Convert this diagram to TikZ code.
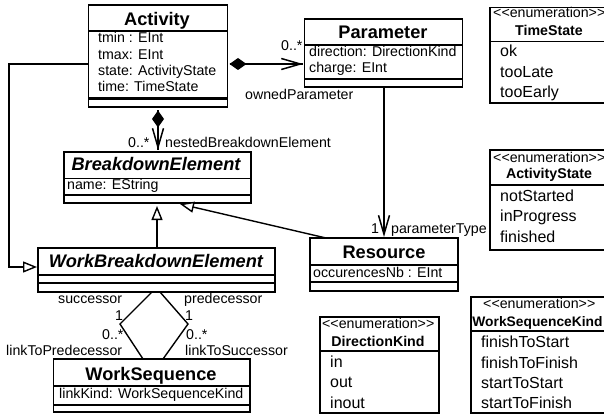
\documentclass[tikz,border=0pt]{standalone}
\usepackage{fontspec}
\setmainfont{Liberation Sans}
\usetikzlibrary{arrows.meta}
\tikzset{
  x=1pt,y=-1pt,
  box/.style={draw=black,line width=1.5pt,fill=white,inner sep=0pt,outer sep=0pt},
  sep/.style={line width=1.6pt},
  conn/.style={line width=1.4pt},
  tx/.style={anchor=base west,inner sep=0pt,font=\fontsize{14.2}{14}\selectfont,text=black},
  ctitle/.style={anchor=base,inner sep=0pt,font=\fontsize{18.2}{18}\selectfont\bfseries},
  ititle/.style={anchor=base,inner sep=0pt,font=\fontsize{18.2}{18}\selectfont\bfseries\itshape},
  etitle/.style={anchor=base,inner sep=0pt,font=\fontsize{14.2}{14}\selectfont\bfseries},
  item/.style={anchor=base west,inner sep=0pt,font=\fontsize{16}{16}\selectfont,text=black},
  opentri/.style={-{Triangle[open,fill=white,length=14pt,width=11pt,line width=1.4pt]}},
  barb/.style={-{Straight Barb[length=19pt,width=11pt,line width=1.5pt]}},
  dia/.style={{Diamond[length=17pt,width=12pt]}-},
}
\newcommand{\cbox}[5]{\node[box,minimum width=#4-#2,minimum height=#5-#3] (#1) at ({(#2+#4)/2},{(#3+#5)/2}) {};}
\begin{document}
\begin{tikzpicture}
\path[use as bounding box,clip] (0,0) rectangle (604,414);
\fill[white] (0,0) rectangle (604,414);
% classes
\cbox{act}{88.5}{5}{227.5}{107}
\draw[sep] (88.5,31)--(227.5,31);
\draw[line width=2.2pt] (88.5,98.5)--(227.5,98.5);
\cbox{par}{304.5}{19}{462.5}{87}
\draw[sep] (304.5,45)--(462.5,45) (304.5,79)--(462.5,79);
\cbox{bde}{64}{152}{251}{203}
\draw[sep] (64,178.5)--(251,178.5) (64,195)--(251,195);
\cbox{wbe}{38}{248}{275}{292}
\draw[sep] (38,275)--(275,275) (38,283)--(275,283);
\cbox{res}{310}{238}{458}{291}
\draw[sep] (310,265)--(458,265) (310,282)--(458,282);
\cbox{wsq}{53.5}{359}{250}{412}
\draw[sep] (53.5,386)--(250,386) (53.5,405)--(250,405);
\cbox{tst}{490}{7.5}{620}{103}
\draw[sep] (490,41.5)--(604,41.5);
\cbox{ast}{490}{150}{620}{250}
\draw[sep] (490,185)--(604,185);
\cbox{dkd}{320}{317}{439}{413}
\draw[sep] (320,351)--(439,351);
\cbox{wsk}{471}{297}{620}{413}
\draw[sep] (471,331)--(604,331);
% ports
\coordinate (actL) at (88.5,64);
\coordinate (actR) at (229.5,64);
\coordinate (parL) at (303,64);
\coordinate (actB) at (158,110.5);
\coordinate (bdeT) at (158,150);
\coordinate (parB) at (384,87);
\coordinate (resT) at (384,237);
\coordinate (wbeT) at (157,248);
\coordinate (bdeB) at (157,206);
\coordinate (wbeL) at (37,267);
\coordinate (c1) at (9,64);
\coordinate (c2) at (9,267);
\coordinate (resTL) at (326,238);
\coordinate (bdeBR) at (180,204);
\coordinate (wbeB1) at (152,292);
\coordinate (wbeB2) at (160,292);
\coordinate (d1) at (120,324);
\coordinate (d2) at (188,324);
\coordinate (wsq1) at (143,359);
\coordinate (wsq2) at (163,359);
% connectors
\draw[conn,opentri] (actL)--(c1)--(c2)--(wbeL);
\draw[conn,dia] (actR)--(parL);
\draw[conn,barb] (actR)--(parL);
\draw[conn,dia] (actB)--(bdeT);
\draw[conn,barb] (actB)--(bdeT);
\draw[conn,barb] (parB)--(resT);
\draw[conn,opentri] (wbeT)--(bdeB);
\draw[conn,opentri] (resTL)--(bdeBR);
\draw[conn] (wbeB1)--(d1)--(wsq1);
\draw[conn] (wbeB2)--(d2)--(wsq2);
% class text
\node[ctitle] (tAct) at (157,26) {Activity};
\node[tx] (a1) at (98,43) {tmin : EInt};
\node[tx] (a2) at (98,60) {tmax: EInt};
\node[tx] (a3) at (98,76) {state: ActivityState};
\node[tx] (a4) at (98,92) {time: TimeState};
\node[ctitle] (tPar) at (383,39) {Parameter};
\node[tx] (p1) at (309,57) {direction: DirectionKind};
\node[tx] (p2) at (309,73) {charge: EInt};
\node[ititle] (tBde) at (156,171) {BreakdownElement};
\node[tx] (b1) at (67,189) {name: EString};
\node[ititle] (tWbe) at (156,267) {WorkBreakdownElement};
\node[ctitle] (tRes) at (384,258) {Resource};
\node[tx] (r1) at (313,277) {occurencesNb : EInt};
\node[ctitle] (tWsq) at (151,380) {WorkSequence};
\node[tx] (w1) at (59,398) {linkKind: WorkSequenceKind};
% enums
\node[tx] (e1) at (493,18) {<{}<enumeration>{}>};
\node[etitle] (e1t) at (549,36) {TimeState};
\node[item] (e1a) at (500,57) {ok};
\node[item] (e1b) at (500,78) {tooLate};
\node[item] (e1c) at (500,98) {tooEarly};
\node[tx] (e2) at (493,162) {<{}<enumeration>{}>};
\node[etitle] (e2t) at (549,178) {ActivityState};
\node[item] (e2a) at (500,201) {notStarted};
\node[item] (e2b) at (500,221) {inProgress};
\node[item] (e2c) at (500,242) {finished};
\node[tx] (e3) at (322,328) {<{}<enumeration>{}>};
\node[etitle] (e3t) at (378,346) {DirectionKind};
\node[item] (e3a) at (330,367) {in};
\node[item] (e3b) at (330,387) {out};
\node[item] (e3c) at (330,408) {inout};
\node[tx] (e4) at (483,308) {<{}<enumeration>{}>};
\node[etitle,font=\fontsize{13.8}{14}\selectfont\bfseries] (e4t) at (537.5,326) {WorkSequenceKind};
\node[item] (e4a) at (481,347) {finishToStart};
\node[item] (e4b) at (481,368) {finishToFinish};
\node[item] (e4c) at (481,388) {startToStart};
\node[item] (e4d) at (481,408) {startToFinish};
% labels
\node[tx] (l1) at (281,51) {0..*};
\node[tx] (l2) at (245,100) {ownedParameter};
\node[tx] (l3) at (128,147) {0..*};
\node[tx] (l4) at (165,147) {nestedBreakdownElement};
\node[tx] (l5) at (371,233) {1};
\node[tx] (l6) at (391,233) {parameterType};
\node[tx] (l7) at (58,303) {successor};
\node[tx] (l8) at (184,303) {predecessor};
\node[tx] (l9) at (115,320) {1};
\node[tx] (l10) at (185,320) {1};
\node[tx] (l11) at (102,339) {0..*};
\node[tx] (l12) at (186,339) {0..*};
\node[tx] (l13) at (6,355) {linkToPredecessor};
\node[tx] (l14) at (185,355) {linkToSuccessor};
\end{tikzpicture}
\end{document}
